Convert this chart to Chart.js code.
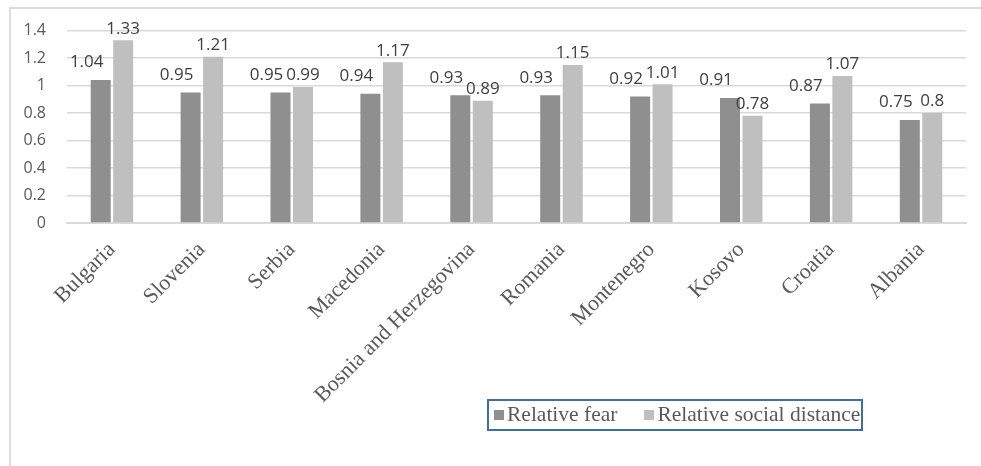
<!DOCTYPE html>
<html>
<head>
<meta charset="utf-8">
<script src="https://cdn.jsdelivr.net/npm/chart.js@4"></script>
<style>
  html, body { margin: 0; padding: 0; background: #fff; }
  #wrap { position: relative; width: 981px; height: 466px; overflow: hidden; }
  #frame {
    position: absolute; left: 9px; top: 7px; width: 990px; height: 480px;
    border-top: 2px solid #dcdcdc; border-left: 2px solid #dcdcdc;
  }
  #legend {
    position: absolute; left: 487px; top: 399px; width: 372px; height: 28px;
    border: 2px solid #3b6fa5; white-space: nowrap;
    font-family: "Liberation Serif", serif; font-size: 21.5px; color: #595959;
    line-height: 27px;
  }
  #legend span.sw { display: inline-block; width: 10px; height: 10px; margin: 0 3px 0 5px; vertical-align: 1px; }
  #legend span.item { margin-right: 22px; }
  canvas { position: absolute; left: 0; top: 0; }
</style>
</head>
<body>
<div id="wrap">
  <div id="frame"></div>
  <canvas id="chart" width="981" height="466"></canvas>
  <div id="legend"></div>
</div>
<script>
const countries = [
  "Bulgaria", "Slovenia", "Serbia", "Macedonia", "Bosnia and Herzegovina",
  "Romania", "Montenegro", "Kosovo", "Croatia", "Albania"
];

const relativeFear = [1.04, 0.95, 0.95, 0.94, 0.93, 0.93, 0.92, 0.91, 0.87, 0.75];

const relativeSocialDistance = [1.33, 1.21, 0.99, 1.17, 0.89, 1.15, 1.01, 0.78, 1.07, 0.8];

const yTicks = [0, 0.2, 0.4, 0.6, 0.8, 1, 1.2, 1.4];

const seriesNames = ["Relative fear", "Relative social distance"];
const seriesColors = ["#8f8f8f", "#bfbfbf"];

// value labels, fear ones sit up and to the left like in the original
const valueLabels = {
  id: "valueLabels",
  afterDatasetsDraw(chart) {
    const ctx = chart.ctx;
    ctx.save();
    ctx.font = "17px 'Open Sans', sans-serif";
    ctx.fillStyle = "#404040";
    ctx.textAlign = "center";
    ctx.textBaseline = "bottom";
    chart.data.datasets.forEach((ds, i) => {
      const meta = chart.getDatasetMeta(i);
      meta.data.forEach((bar, j) => {
        const dx = i === 0 ? -14 : 0;
        const dy = i === 0 ? 9 : 3;
        ctx.fillText(String(ds.data[j]), bar.x + dx, bar.y - dy);
      });
    });
    ctx.restore();
  }
};

new Chart(document.getElementById("chart"), {

  type: "bar",

  data: {
    labels: countries,
    datasets: [
      {
        label: seriesNames[0],
        data: relativeFear,
        backgroundColor: seriesColors[0],
        categoryPercentage: 0.5,
        barPercentage: 0.89
      },
      {
        label: seriesNames[1],
        data: relativeSocialDistance,
        backgroundColor: seriesColors[1],
        categoryPercentage: 0.5,
        barPercentage: 0.89
      }
    ]
  },

  options: {
    responsive: false,
    animation: false,
    layout: {
      padding: { left: 0, right: 15, top: 27, bottom: 0 }
    },
    plugins: {
      legend: { display: false },
      tooltip: { enabled: false }
    },
    scales: {
      x: {
        grid: { display: false },
        border: { color: "#d9d9d9", width: 2 },
        ticks: {
          color: "#595959",
          font: { family: "'Liberation Serif', serif", size: 22 },
          maxRotation: 45,
          minRotation: 45,
          padding: 6,
          autoSkip: false
        },
        afterFit(scale) { scale.height = 243; }
      },
      y: {
        min: 0,
        max: 1.4,
        afterBuildTicks(scale) {
          scale.ticks = yTicks.map(v => ({ value: v }));
        },
        grid: { color: "#d9d9d9", lineWidth: 1.5, drawTicks: false },
        border: { display: false },
        ticks: {
          color: "#595959",
          font: { family: "'Open Sans', sans-serif", size: 16 },
          padding: 21,
          callback: v => String(v)
        },
        afterFit(scale) { scale.width = 67; }
      }
    }
  },

  plugins: [valueLabels]

});

const legend = document.getElementById("legend");
seriesNames.forEach((name, i) => {
  const item = document.createElement("span");
  item.className = "item";
  const sw = document.createElement("span");
  sw.className = "sw";
  sw.style.background = seriesColors[i];
  item.appendChild(sw);
  item.appendChild(document.createTextNode(name));
  legend.appendChild(item);
});
</script>
</body>
</html>
